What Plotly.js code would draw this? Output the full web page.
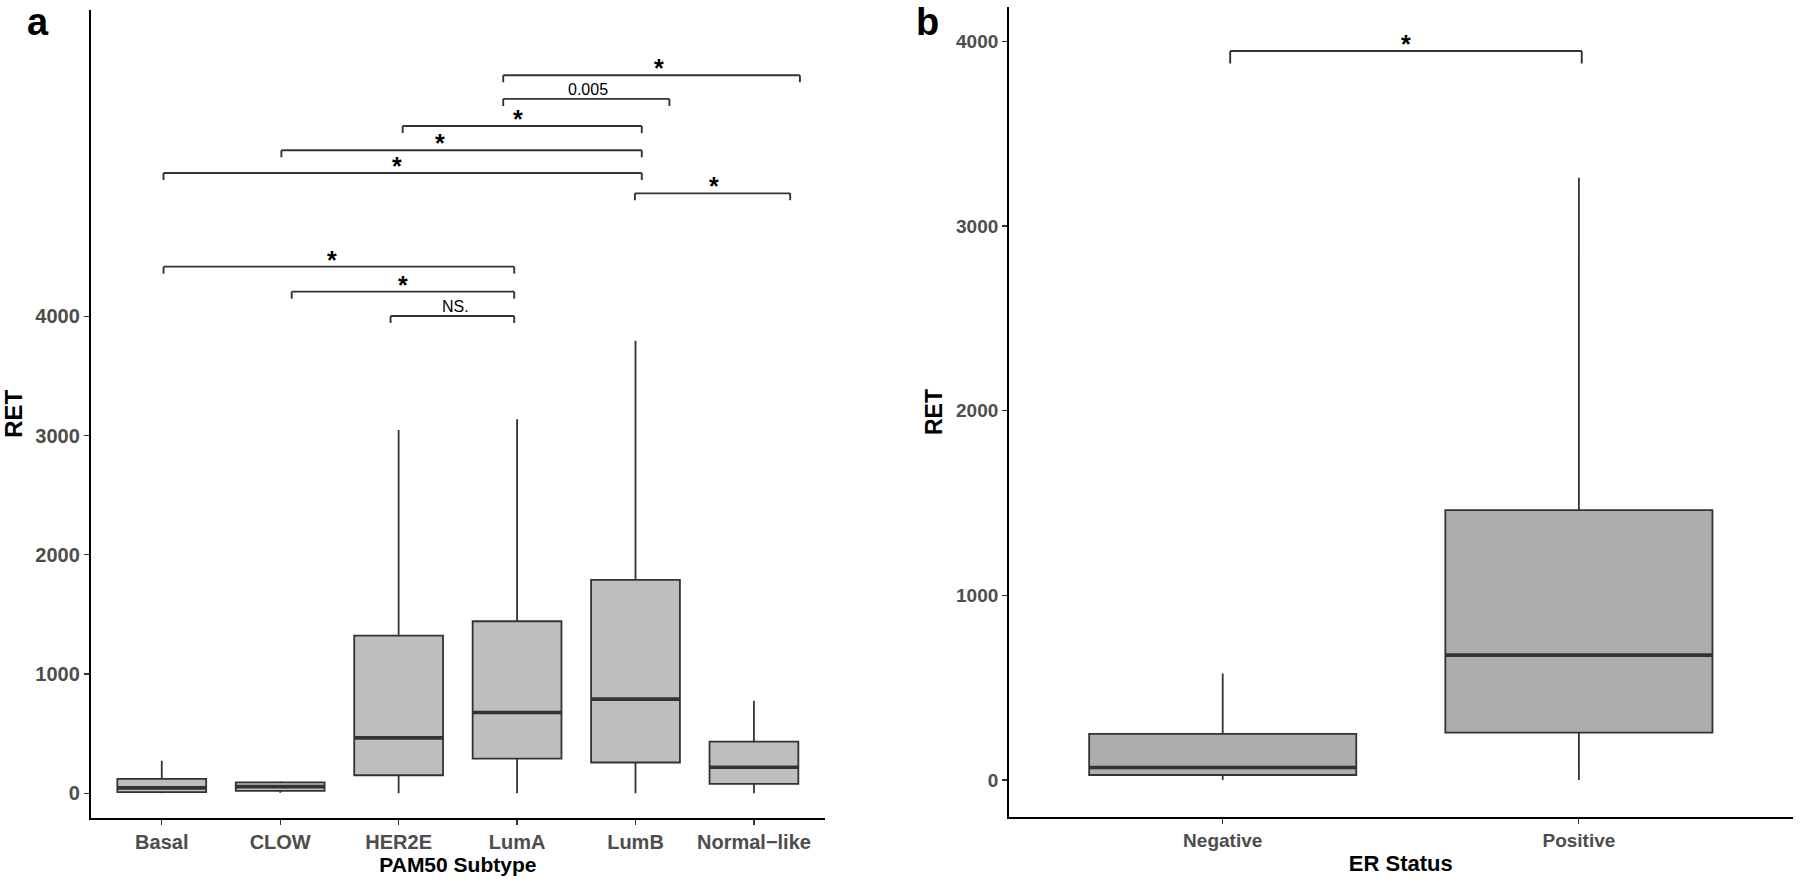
<!DOCTYPE html>
<html><head><meta charset="utf-8">
<script src="https://cdn.plot.ly/plotly-3.0.1.min.js"></script>
<style>html,body{margin:0;padding:0;background:#fff;} #chart{width:1800px;height:883px;}</style>
</head><body><div id="chart"></div>
<script>
// ---- Panel a: PAM50 subtype ----
const pamCats = ['Basal', 'CLOW', 'HER2E', 'LumA', 'LumB', 'Normal\u2212like'];
const pamMin = [0, 5, 0, 0, 0, 0];
const pamQ1 = [10, 20, 151, 291, 258, 78];
const pamMedian = [45, 56, 465, 678, 790, 218];
const pamQ3 = [120, 92, 1322, 1443, 1790, 434];
const pamMax = [272, 100, 3048, 3137, 3797, 776];
const pamTicks = [0, 1000, 2000, 3000, 4000];

// significance brackets (category index positions, y in RET units)
const pamBracketStart = [2.883, 2.883, 2.034, 1.010, 0.015, 3.995, 0.015, 1.097, 1.932];
const pamBracketEnd = [5.388, 4.286, 4.053, 4.053, 4.053, 5.306, 2.976, 2.976, 2.976];
const pamBracketY = [6023, 5825, 5598, 5395, 5204, 5033, 4418, 4208, 4004];
const pamBracketLabel = ['*', '0.005', '*', '*', '*', '*', '*', '*', 'NS.'];
const pamBracketLabelX = [4.199, 3.597, 3.010, 2.350, 1.990, 4.660, 1.437, 2.034, 2.476];

// ---- Panel b: ER status ----
const erCats = ['Negative', 'Positive'];
const erMin = [0, 0];
const erQ1 = [27, 256];
const erMedian = [68, 676];
const erQ3 = [250, 1461];
const erMax = [577, 3261];
const erTicks = [0, 1000, 2000, 3000, 4000];
const erBracketStart = [0.021];
const erBracketEnd = [1.008];
const erBracketY = [3947];
const erBracketLabel = ['*'];
const erBracketLabelX = [0.514];

const FONT = 'Liberation Sans, Arial, Helvetica, sans-serif';
const DARK = '#333333';
const BOXW = 0.75;

const traces = [
  {type: 'box', x: pamCats, q1: pamQ1, median: pamMedian, q3: pamQ3,
   lowerfence: pamMin, upperfence: pamMax, boxpoints: false, width: BOXW,
   whiskerwidth: 0, fillcolor: '#BEBEBE', line: {color: DARK, width: 1.8},
   xaxis: 'x', yaxis: 'y', showlegend: false, hoverinfo: 'skip'},
  {type: 'box', x: erCats, q1: erQ1, median: erMedian, q3: erQ3,
   lowerfence: erMin, upperfence: erMax, boxpoints: false, width: BOXW,
   whiskerwidth: 0, fillcolor: '#ADADAD', line: {color: DARK, width: 1.8},
   xaxis: 'x2', yaxis: 'y2', showlegend: false, hoverinfo: 'skip'}
];

const shapes = [];
const annotations = [];

function medians(vals, xr, yr) {
  vals.forEach((m, i) => {
    shapes.push({type: 'line', xref: xr, yref: yr, x0: i - BOXW / 2, x1: i + BOXW / 2,
      y0: m, y1: m, line: {color: DARK, width: 3.6}});
  });
}
medians(pamMedian, 'x', 'y');
medians(erMedian, 'x2', 'y2');

function brackets(starts, ends, ys, labels, labelXs, drop, xr, yr) {
  starts.forEach((s, i) => {
    const e = ends[i], y = ys[i];
    const ln = {color: DARK, width: 1.9};
    shapes.push({type: 'line', xref: xr, yref: yr, x0: s, x1: e, y0: y, y1: y, line: ln});
    shapes.push({type: 'line', xref: xr, yref: yr, x0: s, x1: s, y0: y, y1: y - drop, line: ln});
    shapes.push({type: 'line', xref: xr, yref: yr, x0: e, x1: e, y0: y, y1: y - drop, line: ln});
    const star = labels[i] === '*';
    annotations.push({xref: xr, yref: yr, x: labelXs[i], y: y, text: labels[i],
      showarrow: false, xanchor: 'center', yanchor: 'bottom',
      yshift: star ? -9 : -1,
      font: {family: FONT, size: star ? 25 : 16, color: '#000', weight: star ? 'bold' : 'normal'}});
  });
}
brackets(pamBracketStart, pamBracketEnd, pamBracketY, pamBracketLabel, pamBracketLabelX, 59, 'x', 'y');
brackets(erBracketStart, erBracketEnd, erBracketY, erBracketLabel, erBracketLabelX, 67, 'x2', 'y2');

annotations.push({xref: 'paper', yref: 'paper', x: 38 / 1800, y: 1, text: 'a',
  showarrow: false, xanchor: 'center', yanchor: 'top', borderpad: 0,
  font: {family: FONT, size: 38, color: '#000', weight: 'bold'}});
annotations.push({xref: 'paper', yref: 'paper', x: 927 / 1800, y: 1, text: 'b',
  showarrow: false, xanchor: 'center', yanchor: 'top', borderpad: 0,
  font: {family: FONT, size: 38, color: '#000', weight: 'bold'}});

function xax(domain, cats, fs, title, tfs) {
  return {domain: domain, type: 'category', categoryorder: 'array', categoryarray: cats,
    range: [-0.6, cats.length - 0.4], showline: true, linecolor: '#000', linewidth: 1.9,
    ticks: 'outside', ticklen: 5, tickwidth: 1.2, tickcolor: DARK,
    showgrid: false, zeroline: false, automargin: false, fixedrange: true,
    tickfont: {family: FONT, size: fs, color: '#4D4D4D', weight: 'bold'},
    title: {text: title, standoff: 6, font: {family: FONT, size: tfs, color: '#000', weight: 'bold'}}};
}
function yax(domain, range, ticks, fs, tfs, anchor) {
  return {domain: domain, range: range, tickvals: ticks, ticktext: ticks.map(String),
    showline: true, linecolor: '#000', linewidth: 1.9, anchor: anchor,
    ticks: 'outside', ticklen: 5, tickwidth: 1.2, tickcolor: DARK,
    showgrid: false, zeroline: false, automargin: false, fixedrange: true,
    tickfont: {family: FONT, size: fs, color: '#4D4D4D', weight: 'bold'},
    title: {text: 'RET', standoff: 7, font: {family: FONT, size: tfs, color: '#000', weight: 'bold'}}};
}

const layout = {
  width: 1800, height: 883,
  margin: {l: 0, r: 0, t: 0, b: 0},
  paper_bgcolor: '#fff', plot_bgcolor: '#fff',
  showlegend: false,
  xaxis: Object.assign(xax([90.7 / 1800, 825 / 1800], pamCats, 20, 'PAM50 Subtype', 21), {anchor: 'y'}),
  yaxis: yax([1 - 817.7 / 883, 1 - 10 / 883], [-205, 6571], pamTicks, 20, 24, 'x'),
  xaxis2: Object.assign(xax([1009 / 1800, 1792.6 / 1800], erCats, 19, 'ER Status', 22), {anchor: 'y2'}),
  yaxis2: yax([1 - 817.3 / 883, 1 - 6.7 / 883], [-202, 4187], erTicks, 19, 23, 'x2'),
  shapes: shapes,
  annotations: annotations
};

Plotly.newPlot('chart', traces, layout, {displayModeBar: false, staticPlot: true});
</script></body></html>
